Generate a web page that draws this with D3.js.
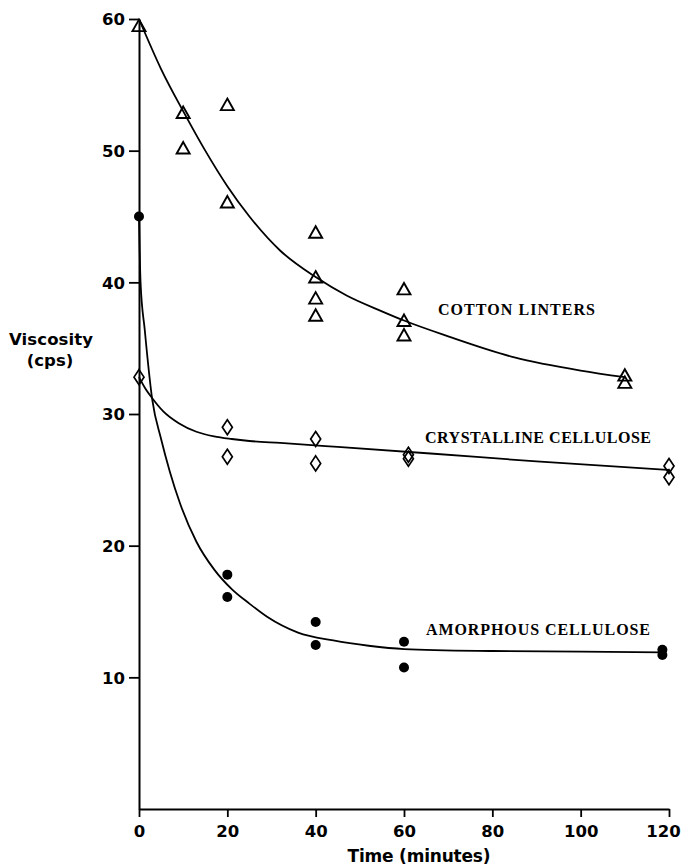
<!DOCTYPE html>
<html>
<head>
<meta charset="utf-8">
<script src="https://cdn.jsdelivr.net/npm/d3@7"></script>
<style>
  body { margin: 0; background: #fff; }
  svg { display: block; }
</style>
</head>
<body>
<script>
// measured points [time, viscosity]
const cottonPoints = [[0, 59.5], [10, 52.9], [10, 50.2], [20, 53.5], [20, 46.1], [40, 43.8], [40, 40.4], [40, 38.8], [40, 37.5], [60, 39.5], [60, 37.1], [60, 36.0], [110, 32.95], [110, 32.4]];
const crystallinePoints = [[0, 32.8], [20, 29.0], [20, 26.75], [40, 28.1], [40, 26.25], [61, 26.9], [61, 26.6], [120, 26.05], [120, 25.2]];
const amorphousPoints = [[0, 45.0], [20, 17.8], [20, 16.1], [40, 14.2], [40, 12.45], [60, 12.7], [60, 10.75], [118.5, 12.1], [118.5, 11.7]];

// fitted curves
const cottonCurve = [[0, 60], [5, 56.2], [10, 53.0], [15, 50.0], [20, 47.3], [25, 45.0], [32, 42.4], [40, 40.4], [47, 39.0], [55, 37.8], [60, 37.1], [70, 35.9], [85, 34.3], [100, 33.3], [110, 32.8]];
const crystallineCurve = [[0, 32.8], [1.5, 31.9], [3, 31.2], [5.5, 30.2], [9, 29.3], [13, 28.65], [17, 28.3], [21, 28.1], [25, 27.95], [32, 27.8], [45, 27.5], [66, 27.0], [90, 26.4], [120, 25.75]];
const amorphousCurve = [[0, 45], [0.35, 40], [1.3, 36.4], [3, 31.1], [5, 28.1], [7, 25.6], [9.3, 23.2], [13, 20.3], [17, 18.2], [21, 16.7], [25, 15.6], [29, 14.6], [36, 13.4], [44, 12.8], [52, 12.4], [60, 12.15], [80, 12.0], [100, 11.95], [118.5, 11.9]];

const xTicks = [0, 20, 40, 60, 80, 100, 120];
const yTicks = [10, 20, 30, 40, 50, 60];

const width = 681, height = 867;

const svg = d3.select("body").append("svg")
    .attr("width", width)
    .attr("height", height);

const x = d3.scaleLinear().domain([0, 120]).range([139, 669]);
const y = d3.scaleLinear().domain([0, 60]).range([809, 19]);

const sans = "'DejaVu Sans', Verdana, sans-serif";
const serif = "'Liberation Serif', 'Times New Roman', serif";

// axes
const xAxis = svg.append("g")
    .attr("transform", `translate(0,${y(0)})`)
    .call(d3.axisBottom(x).tickValues(xTicks).tickSize(8).tickPadding(8).tickSizeOuter(0));

const yAxis = svg.append("g")
    .attr("transform", `translate(${x(0)},0)`)
    .call(d3.axisLeft(y).tickValues(yTicks).tickSize(10).tickPadding(4).tickSizeOuter(0));

[xAxis, yAxis].forEach(g => {
    g.select(".domain").attr("stroke", "#000").attr("stroke-width", 2);
    g.selectAll(".tick line").attr("stroke", "#000").attr("stroke-width", 1.8);
    g.selectAll(".tick text")
        .attr("fill", "#000")
        .style("font-family", sans)
        .style("font-weight", "bold")
        .style("font-size", "16.5px");
});
yAxis.selectAll(".tick text").attr("dy", "0.36em");
// last label sits on the page edge, nudge it in a little
xAxis.selectAll(".tick text").filter(d => d === 120).attr("dx", -6);

// curves
const line = d3.line()
    .x(d => x(d[0]))
    .y(d => y(d[1]))
    .curve(d3.curveMonotoneX);

[cottonCurve, crystallineCurve, amorphousCurve].forEach(c => {
    svg.append("path")
        .attr("d", line(c))
        .attr("fill", "none")
        .attr("stroke", "#000")
        .attr("stroke-width", 1.8);
});

// markers
svg.selectAll("path.tri")
    .data(cottonPoints)
    .join("path")
    .attr("class", "tri")
    .attr("d", "M0,-6L6.5,5.5L-6.5,5.5Z")
    .attr("transform", d => `translate(${x(d[0])},${y(d[1])})`)
    .attr("fill", "none")
    .attr("stroke", "#000")
    .attr("stroke-width", 1.9);

svg.selectAll("path.dia")
    .data(crystallinePoints)
    .join("path")
    .attr("class", "dia")
    .attr("d", "M0,-7.5L5,0L0,7.5L-5,0Z")
    .attr("transform", d => `translate(${x(d[0])},${y(d[1])})`)
    .attr("fill", "none")
    .attr("stroke", "#000")
    .attr("stroke-width", 1.7);

svg.selectAll("circle.dot")
    .data(amorphousPoints)
    .join("circle")
    .attr("class", "dot")
    .attr("cx", d => x(d[0]))
    .attr("cy", d => y(d[1]))
    .attr("r", 5)
    .attr("fill", "#000");

// series labels
const labels = [
    { text: "COTTON LINTERS", x: 438, y: 315, w: 157 },
    { text: "CRYSTALLINE CELLULOSE", x: 425, y: 443, w: 226 },
    { text: "AMORPHOUS CELLULOSE", x: 426, y: 635, w: 224 },
];
svg.selectAll("text.series")
    .data(labels)
    .join("text")
    .attr("class", "series")
    .attr("x", d => d.x)
    .attr("y", d => d.y)
    .attr("textLength", d => d.w)
    .attr("lengthAdjust", "spacing")
    .style("font-family", serif)
    .style("font-weight", "bold")
    .style("font-size", "16px")
    .text(d => d.text);

// axis titles
svg.append("text")
    .attr("x", 51)
    .attr("y", 345)
    .attr("text-anchor", "middle")
    .attr("textLength", 84)
    .attr("lengthAdjust", "spacing")
    .style("font-family", sans)
    .style("font-weight", "bold")
    .style("font-size", "16.5px")
    .text("Viscosity");

svg.append("text")
    .attr("x", 50)
    .attr("y", 366)
    .attr("text-anchor", "middle")
    .style("font-family", sans)
    .style("font-weight", "bold")
    .style("font-size", "16.5px")
    .text("(cps)");

svg.append("text")
    .attr("x", 419)
    .attr("y", 862)
    .attr("text-anchor", "middle")
    .attr("textLength", 143)
    .attr("lengthAdjust", "spacing")
    .style("font-family", sans)
    .style("font-weight", "bold")
    .style("font-size", "17px")
    .text("Time (minutes)");
</script>
</body>
</html>
